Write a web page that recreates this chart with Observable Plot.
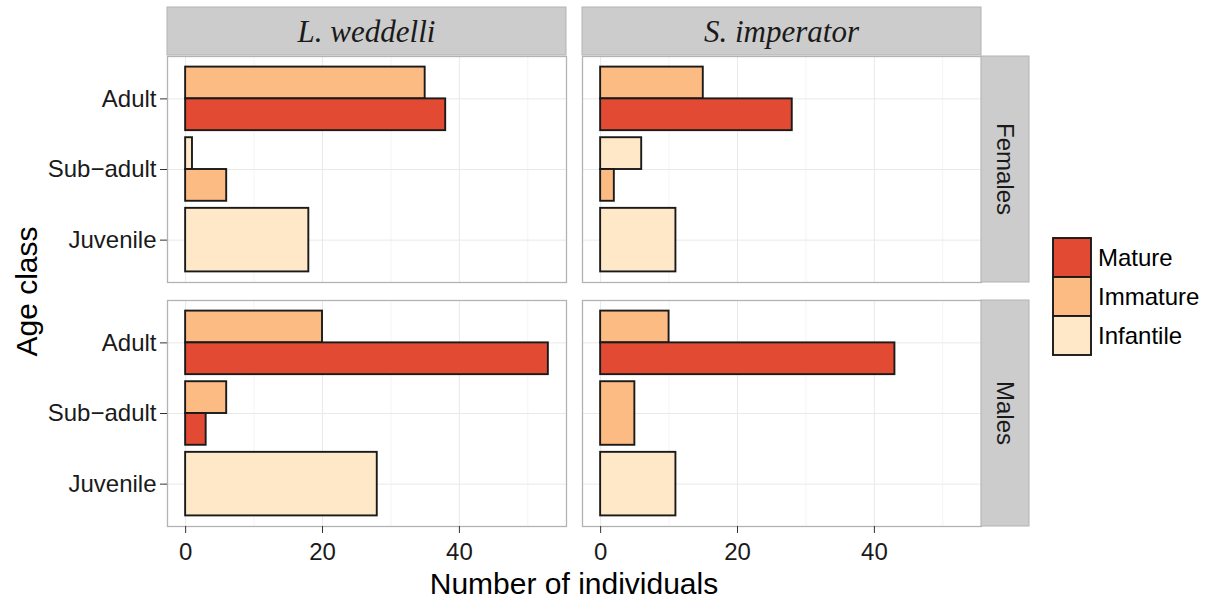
<!DOCTYPE html>
<html><head><meta charset="utf-8">
<script src="https://cdn.jsdelivr.net/npm/d3@7"></script>
<script src="https://cdn.jsdelivr.net/npm/@observablehq/plot@0.6"></script>
<style>body{margin:0;background:#fff} #chart{width:1217px;height:603px;position:relative}</style>
</head><body><div id="chart"></div>
<script>
// ---- data ----
const species = ["L. weddelli", "S. imperator"];
const sexes = ["Females", "Males"];
const ageClasses = ["Adult", "Sub-adult", "Juvenile"];
const ageLabels = ["Adult", "Sub\u2212adult", "Juvenile"];
const maturity = ["Mature", "Immature", "Infantile"];
const maturityColors = ["#E34A33", "#FDBB84", "#FEE8C8"];
const xTicks = [0, 20, 40];
const xMinorTicks = [10, 30, 50];
const xTitle = "Number of individuals";
const yTitle = "Age class";

// [age class, maturity, count]
const weddelliFemales = [["Adult","Mature",38],["Adult","Immature",35],["Sub-adult","Immature",6],["Sub-adult","Infantile",1],["Juvenile","Infantile",18]];
const imperatorFemales = [["Adult","Mature",28],["Adult","Immature",15],["Sub-adult","Immature",2],["Sub-adult","Infantile",6],["Juvenile","Infantile",11]];
const weddelliMales = [["Adult","Mature",53],["Adult","Immature",20],["Sub-adult","Mature",3],["Sub-adult","Immature",6],["Juvenile","Infantile",28]];
const imperatorMales = [["Adult","Mature",43],["Adult","Immature",10],["Sub-adult","Immature",5],["Juvenile","Infantile",11]];

const panels = [
  {species: species[0], sex: sexes[0], rows: weddelliFemales},
  {species: species[1], sex: sexes[0], rows: imperatorFemales},
  {species: species[0], sex: sexes[1], rows: weddelliMales},
  {species: species[1], sex: sexes[1], rows: imperatorMales}
];

// dodge (like ggplot position_dodge, width 0.9), Mature at bottom
const data = [];
for (const p of panels) {
  ageClasses.forEach((age, ai) => {
    const present = p.rows.filter(r => r[0] === age)
      .sort((a, b) => maturity.indexOf(b[1]) - maturity.indexOf(a[1]));
    const w = 0.9 / present.length;
    present.forEach((r, j) => data.push({
      species: p.species, sex: p.sex, age, maturity: r[1], count: r[2],
      y1: ai + 1 - 0.45 + j * w, y2: ai + 1 - 0.45 + (j + 1) * w
    }));
  });
}

const W = 1217, H = 603;
const mL = 167, mR = 236, mT = 56, mB = 76;
const font = "'Liberation Sans', Arial, Helvetica, sans-serif";

const plot = Plot.plot({
  width: W, height: H,
  marginLeft: mL, marginRight: mR, marginTop: mT, marginBottom: mB,
  style: {fontFamily: font, fontSize: "24px", color: "#1a1a1a", background: "#fff", overflow: "visible"},
  fx: {domain: species, paddingInner: 16 / 415, paddingOuter: 0, axis: null},
  fy: {domain: sexes, paddingInner: 18 / 244.5, paddingOuter: 0, axis: null},
  x: {domain: [-2.65, 55.65]},
  y: {domain: [0.4, 3.6], reverse: true},
  color: {domain: maturity, range: maturityColors},
  marks: [
    Plot.gridX(xMinorTicks, {stroke: "#f4f4f4", strokeOpacity: 1}),
    Plot.gridX(xTicks, {stroke: "#e9e9e9", strokeOpacity: 1}),
    Plot.gridY([1, 2, 3], {stroke: "#e9e9e9", strokeOpacity: 1}),
    Plot.rect(data, {fx: "species", fy: "sex", x1: () => 0, x2: "count", y1: "y1", y2: "y2",
      fill: "maturity", stroke: "#1a1a1a", strokeWidth: 1.9}),
    Plot.frame({stroke: "#b3b3b3", strokeWidth: 1.3}),
    Plot.axisX(xTicks, {tickSize: 7, tickPadding: 9, stroke: "#333", fill: "#1a1a1a", fontSize: 24, label: null}),
    Plot.axisY([1, 2, 3], {tickSize: 7, tickPadding: 4, stroke: "#333", fill: "#1a1a1a", fontSize: 24,
      tickFormat: d => ageLabels[d - 1], label: null})
  ]
});

const svg = d3.select(plot);
const fxs = plot.scale("fx"), fys = plot.scale("fy");
const g = svg.append("g").attr("text-anchor", "start");

// top strips
species.forEach(s => {
  const x0 = fxs.apply(s), bw = fxs.bandwidth;
  g.append("rect").attr("x", x0).attr("y", 7).attr("width", bw).attr("height", mT - 8)
    .attr("fill", "#cccccc").attr("stroke", "#b3b3b3").attr("stroke-width", 1);
  g.append("text").attr("x", x0 + bw / 2).attr("y", 31).attr("dy", "0.35em")
    .attr("text-anchor", "middle").attr("font-family", "'Liberation Serif', 'Times New Roman', serif")
    .attr("font-style", "italic").attr("font-size", 31).attr("fill", "#1a1a1a").text(s);
});
// right strips
sexes.forEach(s => {
  const y0 = fys.apply(s), bh = fys.bandwidth;
  const x0 = W - mR;
  g.append("rect").attr("x", x0).attr("y", y0).attr("width", 48).attr("height", bh)
    .attr("fill", "#cccccc").attr("stroke", "#b3b3b3").attr("stroke-width", 1);
  g.append("text").attr("transform", `translate(${x0 + 24},${y0 + bh / 2}) rotate(90)`)
    .attr("dy", "0.35em").attr("text-anchor", "middle").attr("font-family", font)
    .attr("font-size", 24).attr("fill", "#1a1a1a").text(s);
});

// axis titles
g.append("text").attr("x", (mL + W - mR) / 2).attr("y", 594).attr("text-anchor", "middle")
  .attr("font-family", font).attr("font-size", 30).attr("fill", "#000").text(xTitle);
g.append("text").attr("transform", `translate(37,${(mT + H - mB) / 2}) rotate(-90)`)
  .attr("text-anchor", "middle").attr("font-family", font).attr("font-size", 30).attr("fill", "#000").text(yTitle);

// legend
maturity.forEach((m, i) => {
  const y = 238 + i * 39;
  g.append("rect").attr("x", 1053).attr("y", y).attr("width", 38).attr("height", 39)
    .attr("fill", maturityColors[i]).attr("stroke", "#1a1a1a").attr("stroke-width", 1.9);
  g.append("text").attr("x", 1098).attr("y", y + 19.5).attr("dy", "0.35em").attr("text-anchor", "start")
    .attr("font-family", font).attr("font-size", 24).attr("fill", "#000").text(m);
});

document.getElementById("chart").appendChild(plot);
</script>
</body></html>
